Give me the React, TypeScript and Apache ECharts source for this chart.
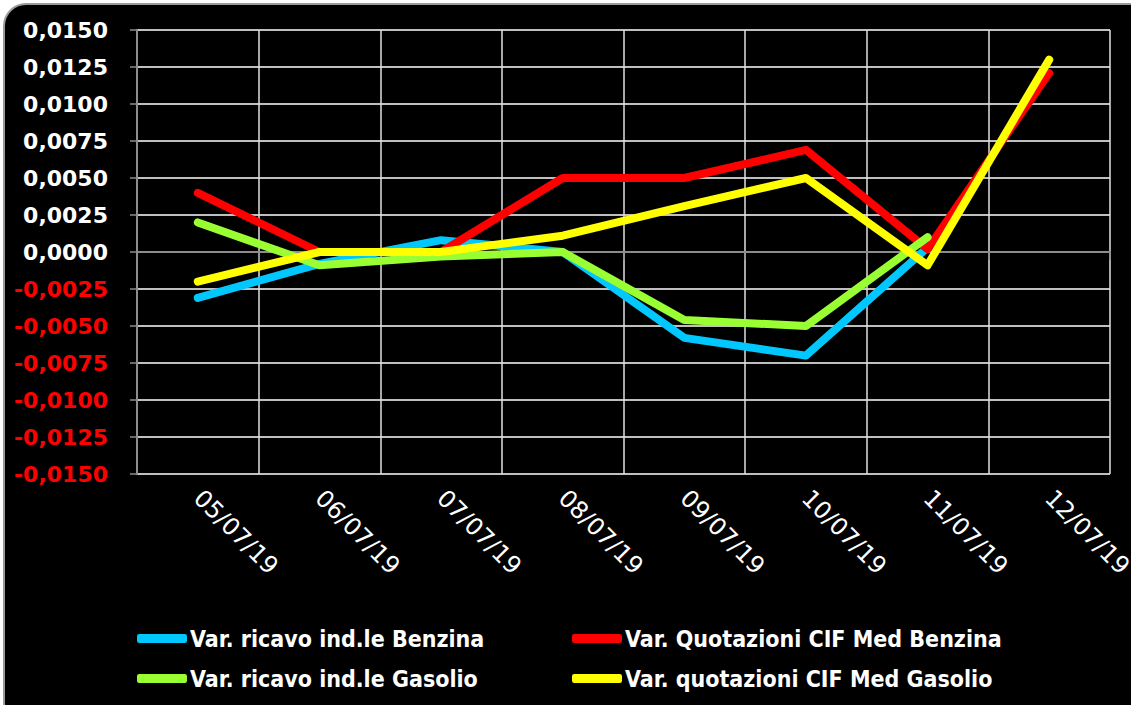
import React, { useEffect, useRef } from "react";
import * as echarts from "echarts";

const categories = ["05/07/19", "06/07/19", "07/07/19", "08/07/19", "09/07/19", "10/07/19", "11/07/19", "12/07/19"];
const ricavoBenzina = [-0.0031, -0.0008, 0.0008, 0.0, -0.0058, -0.007, 0.0003, null];
const quotBenzina = [0.004, 0.0, 0.0, 0.005, 0.005, 0.0069, 0.0002, 0.0121];
const ricavoGasolio = [0.002, -0.0009, -0.0003, 0.0, -0.0046, -0.005, 0.001, null];
const quotGasolio = [-0.002, 0.0, 0.0, 0.0011, 0.0031, 0.005, -0.0009, 0.013];

const seriesNames = [
  "Var. ricavo ind.le Benzina",
  "Var. Quotazioni CIF Med Benzina",
  "Var. ricavo ind.le Gasolio",
  "Var. quotazioni CIF Med Gasolio",
];
const seriesColors = ["#00C8FF", "#FF0000", "#99FF33", "#FFFF00"];
const seriesData = [ricavoBenzina, quotBenzina, ricavoGasolio, quotGasolio];

export default function App() {
  const ref = useRef<HTMLDivElement>(null);
  useEffect(() => {
    document.body.style.margin = "0";
    const chart = echarts.init(ref.current!, null, { renderer: "svg" });
    const legendPos = [
      { left: 137, top: 627 },
      { left: 572, top: 627 },
      { left: 137, top: 667 },
      { left: 572, top: 667 },
    ];
    chart.setOption({
      animation: false,
      backgroundColor: "#ffffff",
      graphic: [
        {
          type: "rect",
          z: -10,
          silent: true,
          shape: { x: 4, y: 4, width: 1150, height: 720, r: 22 },
          style: { fill: "#000000", stroke: "#9a9a9a", lineWidth: 2 },
        },
      ],
      legend: seriesNames.map((n, i) => ({
        data: [n],
        left: legendPos[i].left,
        top: legendPos[i].top,
        icon: "roundRect",
        itemWidth: 50,
        itemHeight: 9,
        itemGap: 0,
        padding: 0,
        textStyle: {
          color: "#ffffff",
          fontFamily: "DejaVu Sans Condensed, DejaVu Sans",
          fontWeight: "bold",
          fontSize: 23,
          padding: [0, 0, 0, -2],
        },
      })),
      grid: {
        left: 137,
        right: 21,
        top: 30,
        bottom: 231,
        containLabel: false,
        outerBoundsMode: "none",
      },
      xAxis: {
        type: "category",
        data: categories,
        boundaryGap: true,
        axisLine: { show: true, lineStyle: { color: "#8c8c8c", width: 2 } },
        axisTick: { show: true, length: 8, lineStyle: { color: "#8c8c8c", width: 1.5 } },
        splitLine: { show: true, lineStyle: { color: "#e0e0e0", width: 1.5 } },
        axisLabel: {
          rotate: -45,
          margin: 20,
          interval: 0,
          color: "#ffffff",
          fontFamily: "DejaVu Sans",
          fontSize: 24,
          align: "left",
        },
      },
      yAxis: {
        type: "value",
        min: -0.015,
        max: 0.015,
        interval: 0.0025,
        axisLine: { show: true, lineStyle: { color: "#8c8c8c", width: 2 } },
        axisTick: { show: true, length: 7, lineStyle: { color: "#8c8c8c", width: 1.5 } },
        splitLine: { show: true, lineStyle: { color: "#ffffff", width: 1.5 } },
        axisLabel: {
          margin: 29,
          fontFamily: "DejaVu Sans",
          fontWeight: "bold",
          fontSize: 22,
          formatter: (v: number) => {
            const val = Math.abs(v) < 1e-9 ? 0 : v;
            const s = val.toFixed(4).replace(".", ",");
            return val < 0 ? "{n|" + s + "}" : "{p|" + s + "}";
          },
          rich: {
            p: { color: "#ffffff", fontFamily: "DejaVu Sans", fontWeight: "bold", fontSize: 22 },
            n: { color: "#ff0000", fontFamily: "DejaVu Sans", fontWeight: "bold", fontSize: 22 },
          },
        },
      },
      series: seriesNames.map((n, i) => ({
        name: n,
        type: "line",
        data: seriesData[i],
        showSymbol: false,
        symbol: "none",
        connectNulls: false,
        itemStyle: { color: seriesColors[i] },
        lineStyle: { color: seriesColors[i], width: 8, cap: "round", join: "round" },
        z: 2 + i,
      })),
    });
    return () => chart.dispose();
  }, []);
  return <div ref={ref} style={{ width: 1131, height: 705 }} />;
}
